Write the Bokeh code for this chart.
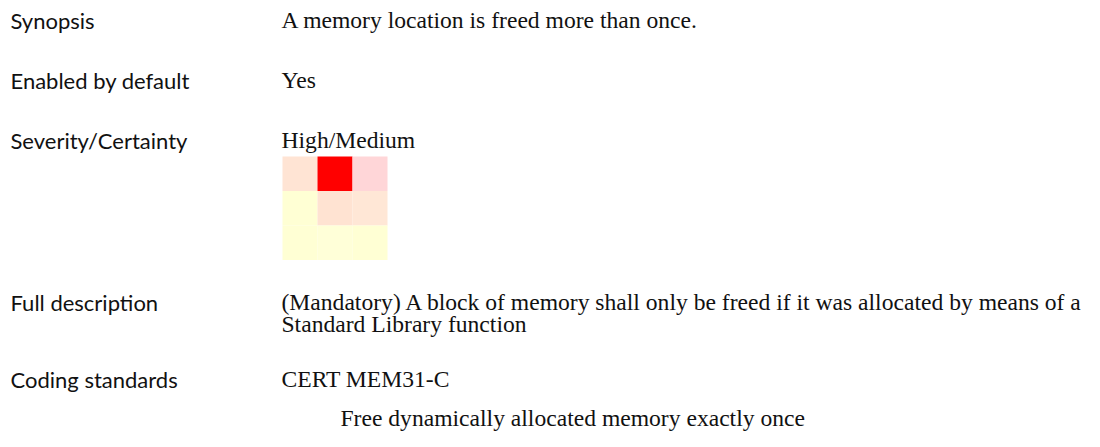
from bokeh.plotting import figure
from bokeh.models import Range1d, ColumnDataSource
from bokeh.core.properties import value
from bokeh.embed import file_html
from bokeh.resources import INLINE

# ---- data ----
field_labels = ["Synopsis", "Enabled by default", "Severity/Certainty",
                "Full description", "Coding standards"]
field_values = [
    ["A memory location is freed more than once."],
    ["Yes"],
    ["High/Medium"],
    ["(Mandatory) A block of memory shall only be freed if it was allocated by means of a",
     "Standard Library function"],
    ["CERT MEM31-C"],
]
standard_note = "Free dynamically allocated memory exactly once"

# severity/certainty matrix: rows top->bottom, cols left->right
matrix_rows = [0, 0, 0, 1, 1, 1, 2, 2, 2]
matrix_cols = [0, 1, 2, 0, 1, 2, 0, 1, 2]
matrix_colors = ["#FFE4D4", "#FF0000", "#FFD6D8",
                 "#FFFFD4", "#FFE3D2", "#FFE7D6",
                 "#FFFFD4", "#FFFFD8", "#FFFFD4"]

# ---- layout constants (pixels) ----
W, H = 1084, 431
label_x = 10
value_x = 281
text_shift = 7.5
row_baselines = [27, 87, 147, 309, 386]
line_gap = 21.5
note_x = 340
note_y = 425
hm_x0, hm_y0 = 282, 156
cell_w, cell_h = 35, 34.5

p = figure(width=W, height=H, output_backend="svg", toolbar_location=None,
           x_range=Range1d(0, W), y_range=Range1d(H, 0),
           min_border=0, outline_line_color=None, background_fill_color="white",
           border_fill_color="white")
p.axis.visible = False
p.grid.visible = False

# labels
p.text(x=[label_x] * len(field_labels), y=[b - text_shift for b in row_baselines],
       text=field_labels,
       text_font=value("Lato"), text_font_size="22px", text_color="#111111",
       text_baseline="alphabetic", text_align="left")

# values
vx, vy, vt = [], [], []
for base, lines in zip(row_baselines, field_values):
    for i, ln in enumerate(lines):
        vx.append(value_x)
        vy.append(base - text_shift + i * line_gap)
        vt.append(ln)
vx.append(note_x); vy.append(note_y - text_shift); vt.append(standard_note)
p.text(x=vx, y=vy, text=vt, text_font=value("Liberation Serif"),
       text_font_size="23.6px", text_color="#111111",
       text_baseline="alphabetic", text_align="left")

# heatmap
src = ColumnDataSource(dict(
    x=[hm_x0 + (c + 0.5) * cell_w for c in matrix_cols],
    y=[hm_y0 + (r + 0.5) * cell_h for r in matrix_rows],
    color=matrix_colors,
))
p.rect(x="x", y="y", width=cell_w, height=cell_h, fill_color="color",
       line_color=None, source=src)

open("out.html", "w").write(file_html(p, INLINE))
